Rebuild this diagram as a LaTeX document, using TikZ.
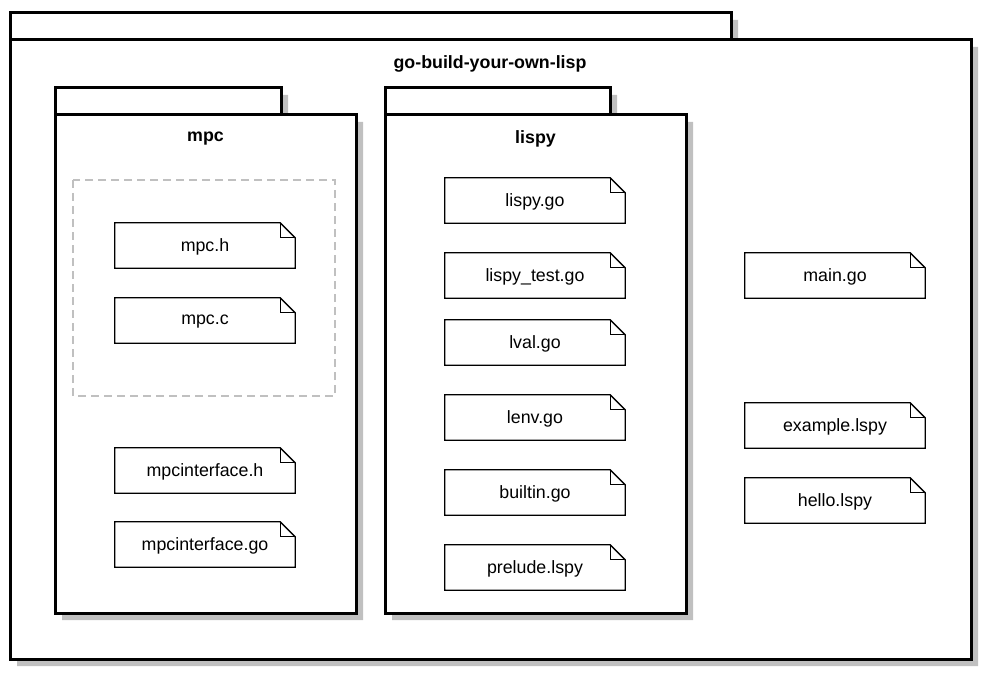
\documentclass[tikz,border=0pt]{standalone}
\usepackage{fontspec}
\setmainfont{Liberation Sans}
\definecolor{shadowgray}{HTML}{C0C0C0}
\definecolor{dashgray}{HTML}{C0C0C0}
\tikzset{
  pkgline/.style={line width=3pt, draw=black, fill=white},
  pkgshadow/.style={fill=shadowgray, draw=none},
  pkglabel/.style={font=\fontsize{17.8}{20}\selectfont\bfseries, inner sep=0pt},
  filebox/.style={minimum width=180pt, minimum height=45pt, inner sep=0pt, font=\fontsize{17.8}{20}\selectfont},
  filetext/.style={inner sep=0pt, font=\fontsize{17.8}{20}\selectfont, yshift=-1.5pt},
  fileline/.style={line width=1.3pt, draw=black, fill=white, line join=miter},
  groupbox/.style={draw=dashgray, line width=2.8pt, dash pattern=on 8pt off 5pt},
}
% \pkgshape{x1}{tabtop}{tabright}{bodytop}{x2}{bottom}
\newcommand{\pkgshape}[6]{%
  \fill[pkgshadow] (#1+7,#2+7) -- (#3+7,#2+7) -- (#3+7,#4+7) -- (#5+7,#4+7) -- (#5+7,#6+7) -- (#1+7,#6+7) -- cycle;
  \draw[pkgline] (#1,#2) rectangle (#3,#4);
  \draw[pkgline] (#1,#4) rectangle (#5,#6);
}
% \filenode{name}{center x}{center y}{text}
\newcommand{\filenode}[4]{%
  \node[filebox] (#1) at (#2,#3) {};
  \draw[fileline] (#1.south west) -- (#1.north west) -- ([xshift=-15pt]#1.north east) -- ([yshift=-15pt]#1.north east) -- (#1.south east) -- cycle;
  \draw[fileline, fill=none] ([xshift=-15pt]#1.north east) |- ([yshift=-15pt]#1.north east);
  \node[filetext] (#1-label) at (#1) {#4};
}
\begin{document}
\begin{tikzpicture}[x=1pt, y=-1pt]
  \useasboundingbox[fill=white] (0,0) rectangle (986,674);
  % outer package
  \pkgshape{10}{13}{731}{40}{971}{659}
  \node[pkglabel] (title) at (490,64) {go-build-your-own-lisp};
  % mpc package
  \pkgshape{55}{88}{281}{115}{356}{613}
  \node[pkglabel] (mpclabel) at (205.5,139) {mpc};
  % lispy package
  \pkgshape{385}{88}{610}{115}{686}{613}
  \node[pkglabel] (lispylabel) at (535.5,139) {lispy};
  % dashed group
  \draw[groupbox] (73,180) rectangle (335,396);
  % mpc files
  \filenode{mpch}{205}{245.5}{mpc.h}
  \filenode{mpcc}{205}{320.5}{mpc.c}
  \filenode{mpcih}{205}{470.5}{mpcinterface.h}
  \filenode{mpcigo}{205}{544.5}{mpcinterface.go}
  % lispy files
  \filenode{lispygo}{535}{200.5}{lispy.go}
  \filenode{lispytest}{535}{275.5}{lispy\_test.go}
  \filenode{lval}{535}{342.5}{lval.go}
  \filenode{lenv}{535}{417.5}{lenv.go}
  \filenode{builtin}{535}{492.5}{builtin.go}
  \filenode{prelude}{535}{567.5}{prelude.lspy}
  % root files
  \filenode{maingo}{835}{275.5}{main.go}
  \filenode{example}{835}{425.5}{example.lspy}
  \filenode{hello}{835}{500.5}{hello.lspy}
\end{tikzpicture}
\end{document}
